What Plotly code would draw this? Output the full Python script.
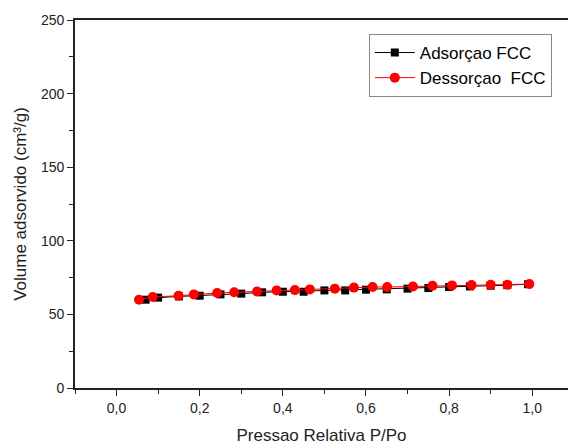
import plotly.graph_objects as go

# Adsorption (black squares)
ads_p = [0.07, 0.10, 0.15, 0.20, 0.25, 0.30, 0.35, 0.40, 0.45, 0.50, 0.55, 0.60, 0.65, 0.70, 0.75, 0.80, 0.85, 0.90, 0.94, 0.99]
ads_v = [60.0, 61.4, 62.2, 62.7, 63.6, 64.1, 65.0, 65.4, 65.4, 66.3, 66.3, 66.8, 67.0, 67.5, 67.9, 68.6, 69.0, 69.5, 69.9, 70.5]

# Desorption (red circles)
des_p = [0.054, 0.087, 0.149, 0.186, 0.242, 0.283, 0.338, 0.385, 0.429, 0.465, 0.525, 0.571, 0.616, 0.651, 0.713, 0.760, 0.807, 0.854, 0.900, 0.940, 0.993]
des_v = [60.0, 61.8, 62.7, 63.6, 64.5, 65.0, 65.6, 66.3, 66.5, 67.0, 67.5, 68.2, 68.6, 68.6, 69.0, 69.5, 69.7, 69.9, 70.2, 70.2, 70.6]

x_tickvals = [0.0, 0.2, 0.4, 0.6, 0.8, 1.0]
x_ticktext = ["0,0", "0,2", "0,4", "0,6", "0,8", "1,0"]
y_tickvals = [0, 50, 100, 150, 200, 250]
y_ticktext = ["0", "50", "100", "150", "200", "250"]

FONT = "Liberation Sans, Arial, sans-serif"

fig = go.Figure()
fig.add_trace(go.Scatter(
    x=ads_p, y=ads_v, mode="lines+markers", name="Adsorçao FCC",
    line=dict(color="black", width=1),
    marker=dict(symbol="square", size=8, color="black"),
))
fig.add_trace(go.Scatter(
    x=des_p, y=des_v, mode="lines+markers", name="Dessorçao\u00a0 FCC",
    line=dict(color="red", width=1),
    marker=dict(symbol="circle", size=10, color="red"),
))

axis_common = dict(
    showgrid=False, zeroline=False, showline=True, linecolor="#222", linewidth=1.8,
    ticks="outside", ticklen=6, tickwidth=1.2, tickcolor="#222",
    tickfont=dict(family=FONT, size=14, color="#222"),
)

fig.update_layout(
    width=568, height=446,
    margin=dict(l=75, r=0, t=20, b=58),
    paper_bgcolor="white", plot_bgcolor="white",
    font=dict(family=FONT, color="#222"),
    xaxis=dict(
        range=[-0.1, 1.086], tickmode="array", tickvals=x_tickvals, ticktext=x_ticktext,
        mirror=True,
        minor=dict(ticks="outside", ticklen=4, tickwidth=1.2, tickcolor="#222", dtick=0.1, tick0=0.1),
        title=dict(text="Pressao Relativa P/Po", font=dict(family=FONT, size=17, color="#222"), standoff=14),
        **axis_common,
    ),
    yaxis=dict(
        range=[0, 250], tickmode="array", tickvals=y_tickvals, ticktext=y_ticktext,
        minor=dict(ticks="outside", ticklen=4, tickwidth=1.2, tickcolor="#222", dtick=25, tick0=25),
        title=dict(text="Volume adsorvido (cm³/g)", font=dict(family=FONT, size=17, color="#222"), standoff=10),
        **axis_common,
    ),
    legend=dict(
        x=0.596, y=0.962, xanchor="left", yanchor="top",
        bordercolor="#888", borderwidth=1, bgcolor="white",
        font=dict(family=FONT, size=17, color="black"),
        tracegroupgap=0, itemwidth=40,
    ),
    showlegend=True,
)

fig.write_html("out.html")
